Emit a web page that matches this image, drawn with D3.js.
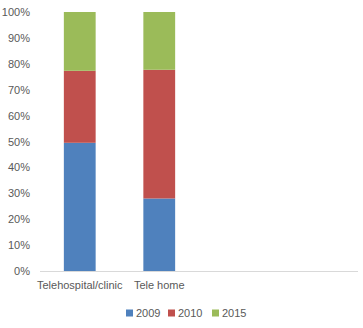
<!DOCTYPE html>
<html>
<head>
<meta charset="utf-8">
<script src="https://cdn.jsdelivr.net/npm/d3@7"></script>
<style>
  body { margin: 0; background: #fff; }
  text { font-family: "Liberation Sans", Arial, sans-serif; fill: #595959; }
</style>
</head>
<body>
<svg id="chart" width="363" height="328"></svg>
<script>
// Category slots on the x axis (two unlabelled slots keep the bars to the left)
const categories = ["Telehospital/clinic", "Tele home", "", " "];
const seriesNames = ["2009", "2010", "2015"];
const values2009 = [49.5, 28.0, 0, 0];
const values2010 = [27.8, 49.7, 0, 0];
const values2015 = [22.7, 22.3, 0, 0];
const yTicks = [0, 0.1, 0.2, 0.3, 0.4, 0.5, 0.6, 0.7, 0.8, 0.9, 1.0];
const colors = ["#4F81BD", "#C0504D", "#9BBB59"];

const rows = categories.map((c, i) => ({
  cat: c, "2009": values2009[i], "2010": values2010[i], "2015": values2015[i]
}));

const svg = d3.select("#chart");
const margin = { left: 40, right: 5, top: 12, bottom: 57 };
const W = 363, H = 328;

const x = d3.scaleBand().domain(categories)
  .range([margin.left, W - margin.right]).paddingInner(0.6).paddingOuter(0.3);
const y = d3.scaleLinear().domain([0, 1]).range([H - margin.bottom, margin.top]);

const stacked = d3.stack().keys(seriesNames).offset(d3.stackOffsetExpand)(
  rows.filter(r => r["2009"] + r["2010"] + r["2015"] > 0)
);

// Y axis labels (no axis line)
const yAxis = d3.axisLeft(y).tickValues(yTicks).tickFormat(d3.format(".0%")).tickSize(0).tickPadding(10);
const gy = svg.append("g").attr("transform", `translate(${margin.left},0)`).call(yAxis);
gy.select(".domain").remove();
gy.selectAll("text").style("font-size", "11px").attr("fill", "#595959");

// Stacked bars
svg.append("g").selectAll("g").data(stacked).join("g")
  .attr("fill", (d, i) => colors[i])
  .selectAll("rect").data(d => d).join("rect")
  .attr("x", d => x(d.data.cat))
  .attr("width", x.bandwidth())
  .attr("y", d => y(d[1]))
  .attr("height", d => y(d[0]) - y(d[1]));

// X axis baseline and category labels
const xAxis = d3.axisBottom(x).tickSize(0).tickPadding(10);
const gx = svg.append("g").attr("transform", `translate(0,${y(0)})`).call(xAxis);
gx.select(".domain").attr("stroke", "#D9D9D9").attr("d", `M${margin.left},0.5H${W - margin.right}`);
gx.selectAll("text").style("font-size", "11px").attr("fill", "#595959");

// Legend
const legendX = [126, 168, 212];
const legend = svg.append("g").attr("transform", "translate(0,313)");
seriesNames.forEach((s, i) => {
  legend.append("rect").attr("x", legendX[i]).attr("y", -3.5).attr("width", 7).attr("height", 7).attr("fill", colors[i]);
  legend.append("text").attr("x", legendX[i] + 10).attr("y", 0).attr("dy", "0.35em")
    .style("font-size", "11px").text(s);
});
</script>
</body>
</html>
